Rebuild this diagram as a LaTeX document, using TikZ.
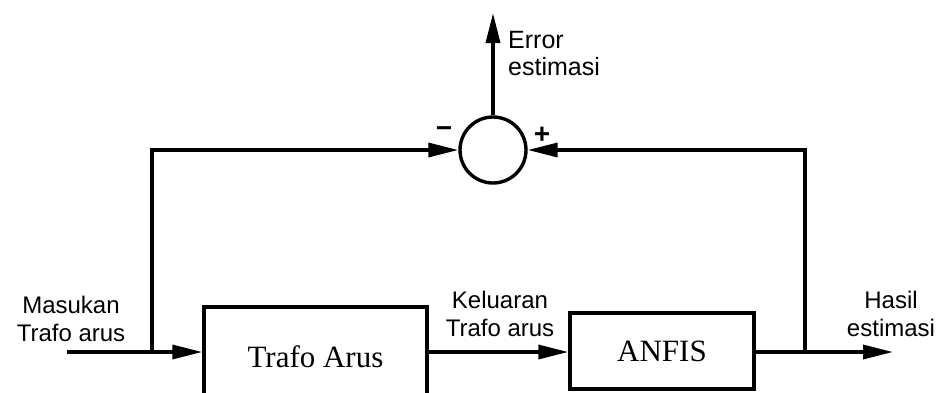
\documentclass[tikz,border=0pt]{standalone}
\usepackage{fontspec}
\setmainfont{Liberation Serif}
\setsansfont{Liberation Sans}
\usetikzlibrary{arrows.meta}
\begin{document}
\begin{tikzpicture}[x=1pt,y=-1pt,
  wire/.style={line width=3.4pt},
  arr/.style={wire,-{Triangle[length=30pt,width=14pt]}},
  blockbox/.style={draw,line width=3.4pt,font=\fontsize{31}{34}\selectfont,inner sep=0pt},
  lbl/.style={font=\sffamily\fontsize{24}{28}\selectfont,align=center,inner sep=0pt},
  sign/.style={font=\sffamily\bfseries\fontsize{28}{28}\selectfont,inner sep=0pt}]
\useasboundingbox (0,0) rectangle (943,392);
\node[draw,circle,line width=3.4pt,minimum size=66pt,inner sep=0pt] (sum) at (493,150) {};
\node[blockbox,minimum width=223pt,minimum height=100pt] (box1) at (315.5,357) {Trafo Arus};
\node[blockbox,minimum width=184pt,minimum height=76pt] (box2) at (662,351) {ANFIS};
\coordinate (in) at (67,352);
\coordinate (j1) at (152,352);
\coordinate (j2) at (805,352);
\coordinate (out) at (893,352);
\coordinate (err) at (493,13);
\draw[arr] (in) -- (in -| box1.west);
\draw[arr] (box1.east |- in) -- (box2.west |- in);
\draw[arr] (box2.east |- in) -- (out);
\draw[arr] (j1) |- (sum.west);
\draw[arr] (j2) |- (sum.east);
\draw[arr] (sum.north) -- (err);
\node[lbl] (l1) at (71,319) {Masukan\\Trafo arus};
\node[lbl] (l2) at (500,314) {Keluaran\\Trafo arus};
\node[lbl] (l3) at (891,314) {Hasil\\estimasi};
\node[lbl,align=left,anchor=north west,font=\sffamily\fontsize{25}{27}\selectfont] (l4) at (508,31) {Error\\estimasi};
\node[sign] (minus) at (444,132) {\textminus};
\node[sign] (plus) at (542,135) {+};
\end{tikzpicture}
\end{document}
